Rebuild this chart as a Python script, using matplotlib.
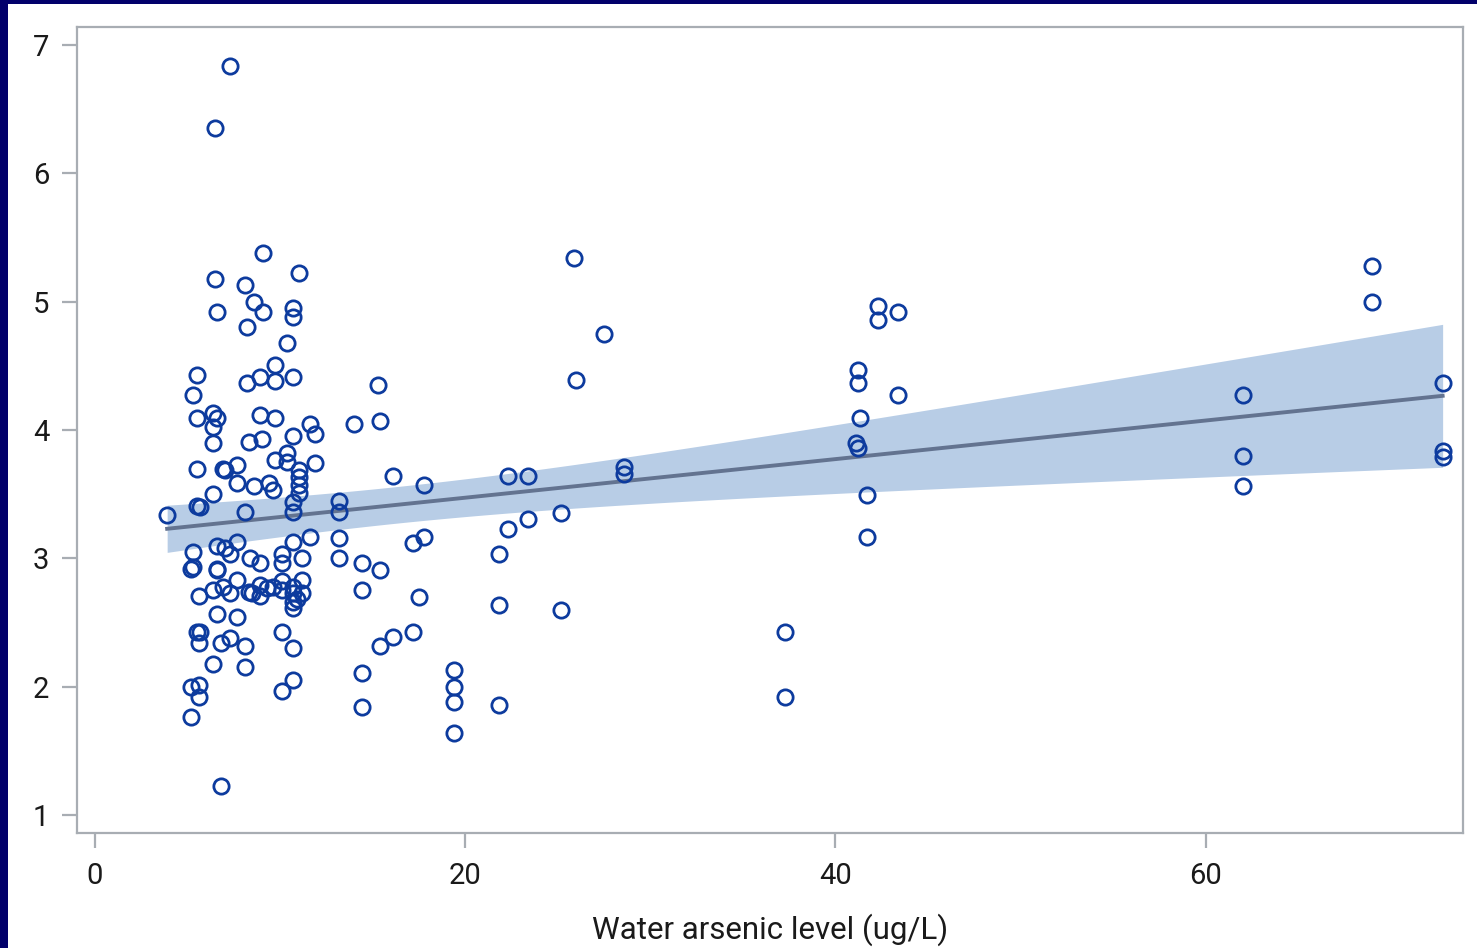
import numpy as np
import matplotlib.pyplot as plt
from matplotlib.patches import Rectangle

# water arsenic level (ug/L) and outcome values
arsenic = [7.3, 6.5, 9.1, 6.5, 11.0, 8.1, 8.6, 9.1, 6.6, 10.7, 10.7, 8.2, 10.4,
           9.7, 5.5, 8.2, 8.9, 9.7, 10.7, 5.3, 5.5, 6.4, 6.6, 6.4, 8.9, 9.7,
           11.6, 11.9, 14.0, 6.4, 8.3, 9.0, 10.7, 10.4, 9.7, 10.4, 5.5, 6.9,
           7.0, 7.7, 11.0, 11.0, 11.9, 7.7, 8.6, 9.4, 9.6, 11.0, 11.0, 6.4,
           5.5, 5.7, 10.7, 10.7, 3.9, 8.1, 13.2, 13.2, 11.6, 10.7, 13.2, 13.2,
           5.3, 5.3, 6.6, 6.6, 7.0, 7.7, 7.3, 8.4, 8.9, 10.1, 10.1, 11.2,
           5.2, 6.6, 7.7, 5.6, 6.4, 6.9, 7.3, 8.3, 8.5, 8.9, 8.9, 9.3, 9.6,
           10.1, 10.1, 10.7, 10.7, 10.7, 10.7, 11.2, 11.2, 10.9, 6.6, 7.7,
           5.5, 5.7, 5.6, 6.8, 7.3, 8.1, 10.1, 10.7, 6.4, 8.1, 5.2, 5.6, 5.6,
           10.1, 10.7, 5.2, 6.8,
           15.3, 15.4, 26.0, 16.1, 17.8, 22.3, 23.4, 28.6, 28.6, 14.4, 15.4,
           14.4, 17.2, 17.8, 22.3, 23.4, 25.2, 21.8, 17.5, 21.8, 25.2, 17.2,
           16.1, 15.4, 14.4, 14.4, 19.4, 19.4, 19.4, 19.4, 21.8, 25.9, 27.5,
           41.2, 41.2, 42.3, 42.3, 43.4, 43.4, 41.3, 41.1, 41.2, 41.7, 41.7,
           37.3, 37.3, 69.0, 69.0, 62.0, 62.0, 62.0, 72.8, 72.8, 72.8]
outcome = [6.84, 6.35, 5.38, 5.18, 5.22, 5.13, 5.0, 4.92, 4.92, 4.95, 4.88,
           4.8, 4.68, 4.51, 4.43, 4.37, 4.41, 4.38, 4.41, 4.27, 4.09, 4.13,
           4.09, 4.02, 4.12, 4.09, 4.05, 3.97, 4.05, 3.9, 3.91, 3.93, 3.95,
           3.82, 3.77, 3.75, 3.7, 3.7, 3.69, 3.73, 3.69, 3.63, 3.74, 3.59,
           3.56, 3.59, 3.53, 3.57, 3.51, 3.5, 3.41, 3.4, 3.44, 3.36, 3.34,
           3.36, 3.45, 3.36, 3.17, 3.13, 3.16, 3.0, 3.05, 2.93, 3.1, 2.92,
           3.08, 3.13, 3.03, 3.0, 2.96, 3.03, 2.96, 3.0,
           2.92, 2.91, 2.83, 2.71, 2.75, 2.78, 2.73, 2.74, 2.73, 2.79, 2.71,
           2.77, 2.78, 2.82, 2.75, 2.78, 2.73, 2.66, 2.61, 2.83, 2.73, 2.68,
           2.57, 2.54, 2.43, 2.43, 2.34, 2.34, 2.38, 2.32, 2.43, 2.3, 2.18,
           2.15, 2.0, 2.01, 1.92, 1.97, 2.05, 1.76, 1.23,
           4.35, 4.07, 4.39, 3.64, 3.57, 3.64, 3.64, 3.71, 3.66, 2.96, 2.91,
           2.75, 3.12, 3.17, 3.23, 3.31, 3.35, 3.03, 2.7, 2.64, 2.6, 2.43,
           2.39, 2.32, 2.11, 1.84, 2.13, 2.0, 1.88, 1.64, 1.86, 5.34, 4.75,
           4.47, 4.37, 4.97, 4.86, 4.92, 4.27, 4.09, 3.9, 3.86, 3.49, 3.17,
           2.43, 1.92, 5.28, 5.0, 4.27, 3.8, 3.56, 4.37, 3.84, 3.79]

x_ticks = [0, 20, 40, 60]
y_ticks = [1, 2, 3, 4, 5, 6, 7]

x = np.array(arsenic)
y = np.array(outcome)

# linear fit with 95% confidence band for the mean
n = len(x)
slope, icpt = np.polyfit(x, y, 1)
resid = y - (icpt + slope * x)
s = np.sqrt(np.sum(resid ** 2) / (n - 2))
xs = np.linspace(x.min(), x.max(), 200)
fit = icpt + slope * xs
se = s * np.sqrt(1 / n + (xs - x.mean()) ** 2 / np.sum((x - x.mean()) ** 2))
lo = fit - 1.97 * se
hi = fit + 1.97 * se

fig = plt.figure(figsize=(14.77, 9.48), dpi=100)
fig.patch.set_facecolor('white')
# navy frame strips on the left and top edges
fig.add_artist(Rectangle((0, 0), 8 / 1477, 1, transform=fig.transFigure,
                         facecolor='#02006b', edgecolor='none'))
fig.add_artist(Rectangle((0, 1 - 4 / 948), 1, 4 / 948, transform=fig.transFigure,
                         facecolor='#02006b', edgecolor='none'))

ax = fig.add_axes([77 / 1477, 1 - 833 / 948, (1463 - 77) / 1477, (833 - 27) / 948])
ax.fill_between(xs, lo, hi, color='#b8cde6', linewidth=0, zorder=1)
ax.plot(xs, fit, color='#637390', linewidth=2.8, zorder=2)
ax.plot(x, y, 'o', markerfacecolor='none', markeredgecolor='#0d3b9e',
        markersize=11, markeredgewidth=2.0, zorder=3)

ax.set_xlim(-0.97, 73.9)
ax.set_ylim(0.86, 7.14)
ax.set_xticks(x_ticks)
ax.set_yticks(y_ticks)
for sp in ax.spines.values():
    sp.set_color('#a8adb3')
    sp.set_linewidth(1.6)
ax.tick_params(colors='#a8adb3', labelcolor='#1a1a1a', length=11, width=1.6,
               labelsize=21)
ax.tick_params(axis='x', pad=10)
ax.tick_params(axis='y', pad=9)
for lab in ax.get_xticklabels() + ax.get_yticklabels():
    lab.set_family('Roboto')
ax.set_xlabel('Water arsenic level (ug/L)', fontsize=22.5, family='Roboto',
              color='#1a1a1a', labelpad=17)

fig.savefig('out.png', dpi=100)
